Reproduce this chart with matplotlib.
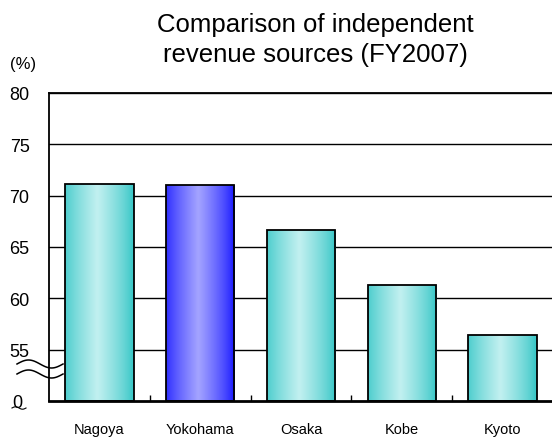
import matplotlib
matplotlib.use("Agg")
import matplotlib.pyplot as plt
import numpy as np
from matplotlib.lines import Line2D
from matplotlib.colors import to_rgb

cities = ["Nagoya", "Yokohama", "Osaka", "Kobe", "Kyoto"]
ratios = [71.1, 71.0, 66.7, 61.3, 56.4]
highlight = "Yokohama"

# broken axis: 0 at the bottom, then a jump straight to 55
axis_base = 50
ytick_values = [55, 60, 65, 70, 75, 80]

plt.rcParams["font.family"] = ["Liberation Sans", "DejaVu Sans"]

W, H = 552, 439
fig = plt.figure(figsize=(W / 100, H / 100), dpi=100)
ax = fig.add_axes([49 / W, 37 / H, 504 / W, 308 / H])


def gradient_colors(edge, light, n=200):
    edge = np.array(to_rgb(edge))
    light = np.array(to_rgb(light))
    x = np.linspace(0, 1, n)
    # brightest slightly left of centre, darker towards both sides
    w = np.clip(1 - np.abs(x - 0.47) / 0.5, 0, 1) ** 0.8
    return edge[None, :] * (1 - w[:, None]) + light[None, :] * w[:, None]


cyan = gradient_colors("#3ec9c9", "#c2f0f0")
blue = gradient_colors("#2020ff", "#a4a4ff")

width = 0.68
bars = ax.bar(range(len(cities)), [v - axis_base for v in ratios], width=width,
              facecolor="none", edgecolor="black", linewidth=1.3, zorder=3)
for bar, city in zip(bars, cities):
    cols = blue if city == highlight else cyan
    x0, y0 = bar.get_x(), bar.get_y()
    img = ax.imshow(cols[None, :, :], extent=[x0, x0 + bar.get_width(), y0, y0 + bar.get_height()],
                    aspect="auto", zorder=2, interpolation="bilinear")
    img.set_clip_path(bar)

ax.set_xlim(-0.5, len(cities) - 0.5)
ax.set_ylim(0, 80 - axis_base)
ax.set_yticks([v - axis_base for v in ytick_values])
ax.set_yticklabels([str(v) for v in ytick_values], fontsize=13)
ax.tick_params(axis="y", length=0, pad=14)
ax.grid(axis="y", color="black", linewidth=1.0, zorder=1)

ax.set_xticks(np.arange(len(cities) - 1) + 0.5, minor=True)
ax.set_xticks(range(len(cities)))
ax.set_xticklabels(cities, fontsize=10.5)
ax.tick_params(axis="x", which="major", length=0, pad=15)
ax.tick_params(axis="x", which="minor", direction="in", length=4, width=1)

ax.spines["right"].set_visible(False)
for side in ["left", "bottom", "top"]:
    ax.spines[side].set_linewidth(1.3)
ax.spines["bottom"].set_linewidth(2)

# zero label and break mark on the value axis
fig.text(12 / W, 1 - 404 / H, "0", fontsize=13, va="center", ha="left")
t = np.linspace(0, 1, 80)
for yc in (365, 375):
    xs = 17 + 46 * t
    ys = yc - 4 * np.sin(2 * np.pi * t)
    fig.add_artist(Line2D(xs / W, 1 - ys / H, color="black", linewidth=1.1))
xs = 12 + 14 * t
fig.add_artist(Line2D(xs / W, 1 - (409 - 1.2 * np.sin(2 * np.pi * t)) / H, color="black", linewidth=0.8))

fig.text(10 / W, 1 - 64 / H, "(%)", fontsize=12, va="center", ha="left")
fig.text(315 / W, 1 - 32 / H, "Comparison of independent",
         fontsize=18.5, ha="center", va="baseline")
fig.text(315 / W, 1 - 62 / H, "revenue sources (FY2007)",
         fontsize=18.5, ha="center", va="baseline")

fig.savefig("out.png", dpi=100)
